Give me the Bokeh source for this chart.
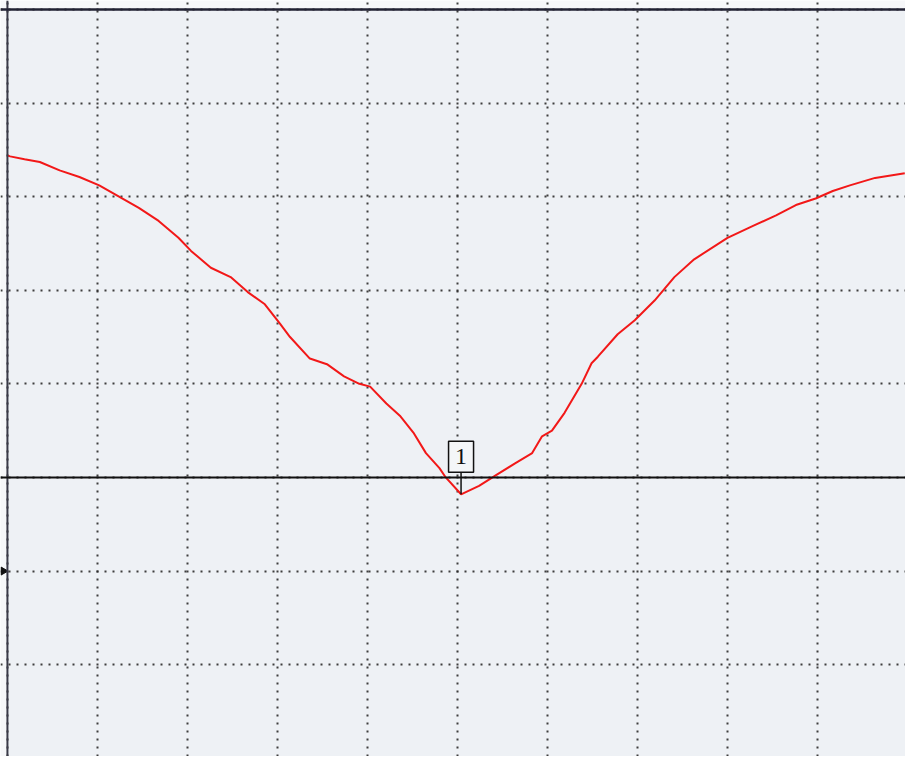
from bokeh.plotting import figure
from bokeh.models import Range1d, FixedTicker, Span, BoxAnnotation
from bokeh.core.properties import value
from bokeh.embed import file_html
from bokeh.resources import INLINE

# Trace: x in horizontal divisions, y in dB (ref line = 0 dB, 10 dB/div)
trace_x = [0.00, 0.03, 0.19, 0.36, 0.58, 0.80, 1.02, 1.24, 1.46, 1.68, 1.90, 2.04, 2.26,
           2.48, 2.67, 2.86, 3.03, 3.14, 3.36, 3.55, 3.74, 3.91, 4.03, 4.21, 4.36, 4.51,
           4.65, 4.80, 4.87, 5.04, 5.24, 5.42, 5.64, 5.83, 5.94, 6.05, 6.19, 6.38, 6.49,
           6.56, 6.78, 6.97, 7.19, 7.41, 7.63, 8.00, 8.29, 8.54, 8.76, 8.98, 9.17, 9.36,
           9.64, 9.97]
trace_y = [34.4, 34.3, 34.0, 33.7, 32.8, 32.1, 31.2, 30.0, 28.8, 27.4, 25.6, 24.2, 22.4,
           21.4, 19.8, 18.5, 16.4, 15.0, 12.7, 12.1, 10.8, 10.0, 9.7, 7.9, 6.6, 4.8,
           2.6, 1.0, 0.0, -1.8, -0.9, 0.2, 1.5, 2.6, 4.4, 5.0, 6.9, 10.0, 12.2,
           12.9, 15.3, 16.8, 18.9, 21.4, 23.3, 25.6, 26.9, 28.0, 29.1, 29.8, 30.6, 31.2,
           32.0, 32.5]

x_divisions = [0, 1, 2, 3, 4, 5, 6, 7, 8, 9, 10]
y_divisions = [-30, -20, -10, 0, 10, 20, 30, 40, 50]
ref_level = 0
top_level = 50
left_edge = 0
pointer_level = -10

marker_label = "1"
marker_x = 5.04
marker_y = -1.8

p = figure(width=905, height=756, output_backend="svg", toolbar_location=None,
           x_range=Range1d(-0.077, 9.978), y_range=Range1d(-29.81, 50.95),
           min_border=0, background_fill_color="#f6f7f9", border_fill_color="#f6f7f9")
p.outline_line_color = None
p.axis.visible = False

# screen area (drawn below the grid)
p.add_layout(BoxAnnotation(left=left_edge, top=top_level, fill_color="#eef1f5",
                           fill_alpha=1.0, line_color=None, level="image"))

p.xgrid.ticker = FixedTicker(ticks=x_divisions)
p.ygrid.ticker = FixedTicker(ticks=y_divisions)
for g in (p.xgrid, p.ygrid):
    g.grid_line_color = "#2a2a2a"
    g.grid_line_width = 2
    g.grid_line_dash = "2 6"
    g.grid_line_alpha = 0.9
    g.level = "underlay"

# border lines (left and top) and reference line
p.add_layout(Span(location=left_edge, dimension="height", line_color="#3a3a48", line_width=2))
p.add_layout(Span(location=top_level, dimension="width", line_color="#222233", line_width=2.5))
p.add_layout(Span(location=ref_level, dimension="width", line_color="#111111", line_width=2))

# pointer arrow at the left edge
p.scatter(x=[left_edge - 0.045], y=[pointer_level], marker="triangle", size=8,
          angle=-1.5708, fill_color="#111111", line_color="#111111")

# trace
p.line(trace_x, trace_y, line_color="#f21818", line_width=2)

# marker: box with label above ref line and stem down to the trace
box_bottom = 0.55
box_center = 2.2
p.segment(x0=[marker_x], y0=[box_bottom], x1=[marker_x], y1=[marker_y],
          line_color="#111111", line_width=1.5)
p.rect(x=[marker_x], y=[box_center], width=25, height=31, width_units="screen",
       height_units="screen", fill_color="#f4f6f8", line_color="#111111", line_width=1.5)
p.text(x=[marker_x], y=[box_center], text=[marker_label], text_align="center",
       text_baseline="middle", text_font=value("Liberation Serif"), text_font_size="24px",
       text_color="#111111")

open("out.html", "w").write(file_html(p, INLINE))
